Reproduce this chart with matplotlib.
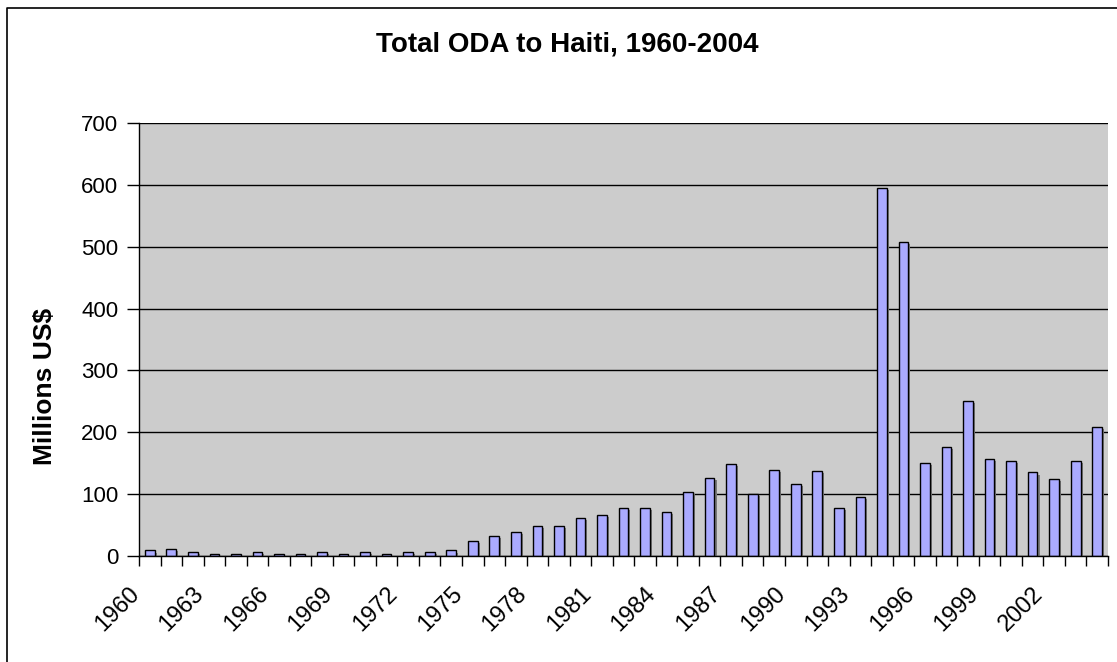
import matplotlib
matplotlib.use("Agg")
import matplotlib.pyplot as plt
import matplotlib.patheffects as pe
import matplotlib.transforms as mtransforms
from matplotlib.lines import Line2D
import numpy as np

plt.rcParams.update({"font.family": ["Liberation Sans", "DejaVu Sans"]})

# Total ODA to Haiti, millions US$
years = list(range(1960, 2005))
oda = [9, 12, 6, 3, 3, 6, 3, 3, 6, 3,
       6, 3, 6, 6, 9, 25, 32, 39, 48, 48,
       61, 67, 77, 77, 71, 103, 126, 149, 100, 139,
       116, 138, 77, 96, 595, 508, 151, 177, 251, 157,
       154, 135, 125, 154, 209]
label_years = years[::3]

W, H = 1117, 662
fig = plt.figure(figsize=(W / 100, H / 100), dpi=100)
ax = fig.add_axes([139 / W, 1 - 556 / H, (1108 - 139) / W, (556 - 123) / H])
ax.set_facecolor("#CCCCCC")

x = np.arange(len(years))
shadow = [pe.SimplePatchShadow(offset=(1.5, -1.5), shadow_rgbFace="#7A7A7A", alpha=1.0),
          pe.Normal()]
bars = ax.bar(x, oda, width=0.45, color="#AAAAFF", edgecolor="black", linewidth=1.0,
              zorder=3)
for b in bars:
    b.set_path_effects(shadow)

ax.set_xlim(-0.5, len(years) - 0.5)
ax.set_ylim(0, 700)
ax.set_yticks(range(0, 701, 100))
ax.yaxis.grid(True, color="black", linewidth=1.0, zorder=1)
ax.set_axisbelow(True)
for s in ("top", "right"):
    ax.spines[s].set_visible(False)
ax.spines["left"].set_linewidth(1.0)
ax.spines["bottom"].set_linewidth(1.0)
ax.spines["bottom"].set_zorder(4)

# ticks at category boundaries, labels at category centres
ax.set_xticks(np.arange(-0.5, len(years), 1.0))
ax.set_xticklabels([])
ax.tick_params(axis="x", which="major", length=7, width=1, direction="out")
ax.set_xticks([years.index(y) for y in label_years], minor=True)
ax.set_xticklabels([str(y) for y in label_years], minor=True, rotation=45,
                   ha="right", va="center", rotation_mode="anchor", fontsize=17)
ax.tick_params(axis="x", which="minor", length=0, pad=25)
shift = mtransforms.ScaledTranslation(-14 / 100, 0, fig.dpi_scale_trans)
for lab in ax.get_xticklabels(minor=True):
    lab.set_transform(lab.get_transform() + shift)

ax.tick_params(axis="y", length=9, width=1, direction="out", pad=6, labelsize=16)

fig.text(567 / W, 1 - 44 / H, "Total ODA to Haiti, 1960-2004", ha="center",
         va="center", fontsize=20, fontweight="bold")
fig.text(45 / W, 1 - 386 / H, "Millions US$", ha="center", va="center",
         rotation=90, fontsize=19, fontweight="bold")

# chart-area border (left and top edges visible)
fig.add_artist(Line2D([7 / W, 7 / W, 1.0], [0.0, 1 - 8 / H, 1 - 8 / H],
                      transform=fig.transFigure, color="black", linewidth=1.2))

fig.savefig("out.png", dpi=100)
